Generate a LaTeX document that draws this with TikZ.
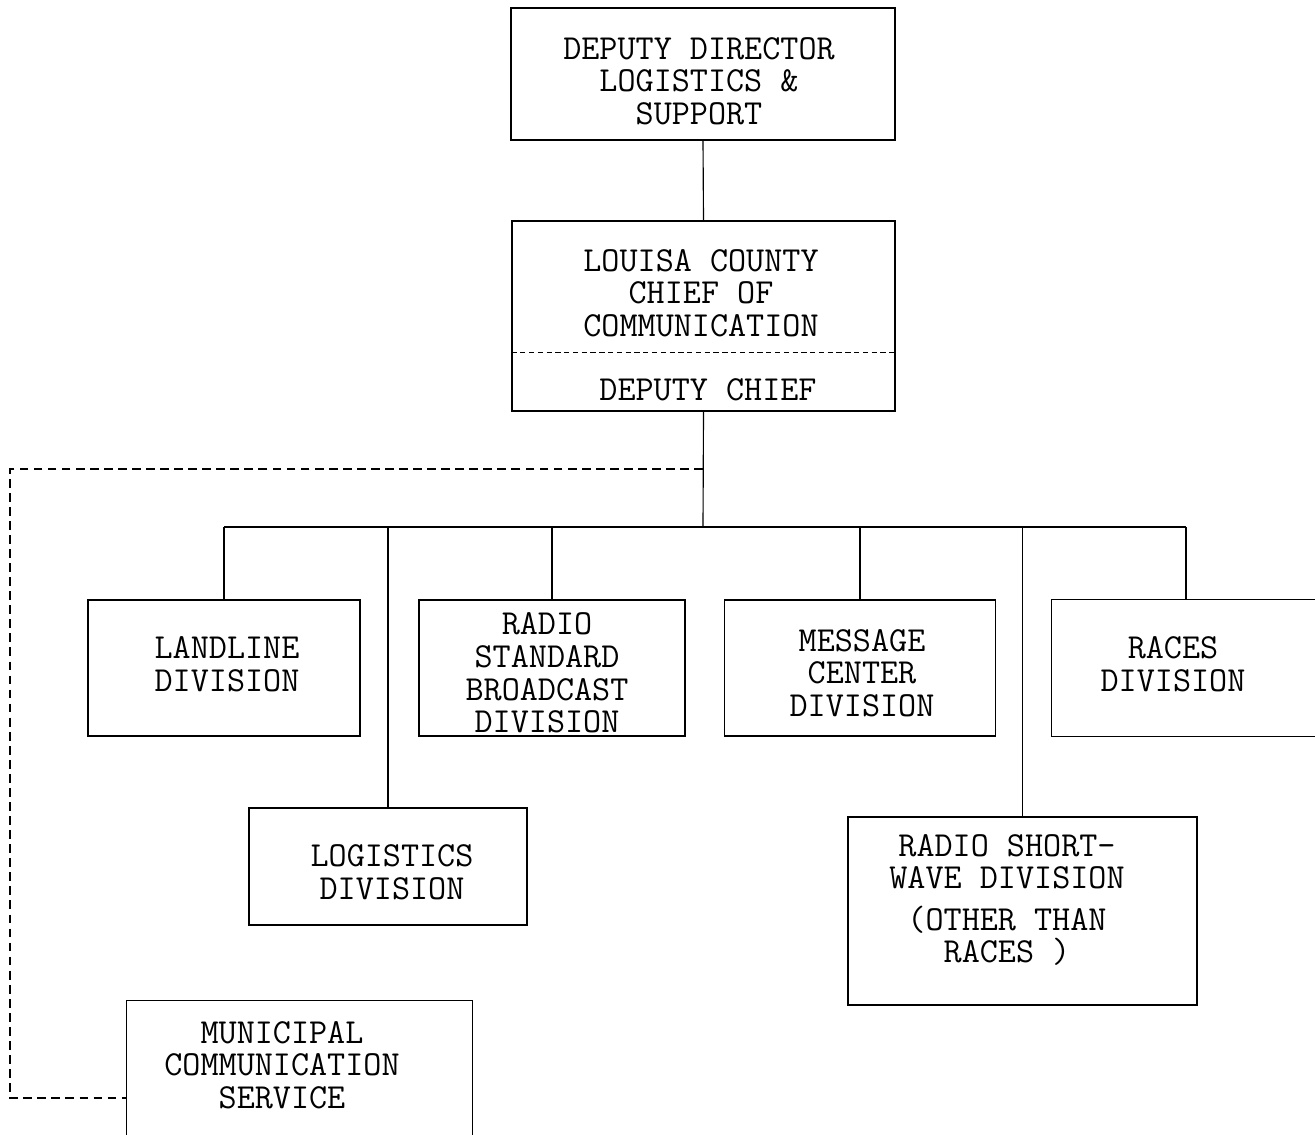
\documentclass[tikz,border=0pt]{standalone}
\usepackage{fontspec}
\begin{document}
\begin{tikzpicture}[x=0.02cm, y=-0.02cm,
  line width=0.65pt,
  orgbox/.style 2 args={draw, rectangle, inner sep=0pt,
    minimum width=#1*0.02cm, minimum height=#2*0.02cm},
  openbox/.style 2 args={rectangle, inner sep=0pt,
    minimum width=#1*0.02cm, minimum height=#2*0.02cm},
  label text/.style={align=center, inner sep=0pt,
    font=\ttfamily\fontsize{20pt}{18.6pt}\selectfont},
  link/.style={draw},
  dotted link/.style={draw, dash pattern=on 5pt off 3pt},
  divider/.style={draw, dash pattern=on 3pt off 2pt, line width=0.5pt}]

\useasboundingbox (0,0) rectangle (1315,1135);

% top of the chain
\node[orgbox={384}{132}] (deputy) at (703,74) {};
\node[label text] (deputyT) at (699,81) {DEPUTY DIRECTOR\\LOGISTICS \&\\SUPPORT};

\node[orgbox={383}{190}] (chief) at (703.5,316) {};
\node[label text] (chiefT) at (701,293) {LOUISA COUNTY\\CHIEF OF\\COMMUNICATION};
\coordinate (div) at (703,352);
\path[divider] (chief.west |- div) -- (chief.east |- div);
\node[label text] (depchief) at (708,390) {DEPUTY CHIEF};

% divisions
\node[orgbox={272}{136}] (landline) at (224,668) {};
\node[label text] at (227,664) {LANDLINE\\DIVISION};

\node[orgbox={266}{136}] (radiostd) at (552,668) {};
\node[label text] at (547,673) {RADIO\\STANDARD\\BROADCAST\\DIVISION};

\node[orgbox={271}{136}] (message) at (860,668) {};
\node[label text] at (862,673) {MESSAGE\\CENTER\\DIVISION};

\node[openbox={268}{136}] (races) at (1186,668) {};
\node[label text] at (1173,664) {RACES\\DIVISION};
\path[link] (races.north east) -- (races.north west) -- (races.south west) -- (races.south east);

\node[orgbox={278}{117}] (logistics) at (388,866.5) {};
\node[label text] at (392,872) {LOGISTICS\\DIVISION};

\node[orgbox={349}{188}] (shortwave) at (1022.5,911) {};
\node[label text] at (1007,900) {RADIO SHORT-\\WAVE DIVISION\\[5pt](OTHER THAN\\RACES )};

\node[openbox={345}{136}] (municipal) at (299.5,1069) {};
\node[label text] at (282,1065) {MUNICIPAL\\COMMUNICATION\\SERVICE};
\path[link] (municipal.south west) -- (municipal.north west) -- (municipal.north east) -- (municipal.south east);

% connectors
\coordinate (bar) at (703,527);
\coordinate (dsplit) at (703,469);
\coordinate (dcorner) at (10,1098);

\path[link] (deputy.south) -- (chief.north);
\path[link] (chief.south) -- (bar);
\path[link] (landline.north |- bar) -- (races.north |- bar);
\path[link] (landline.north |- bar) -- (landline.north);
\path[link] (radiostd.north |- bar) -- (radiostd.north);
\path[link] (message.north |- bar) -- (message.north);
\path[link] (races.north |- bar) -- (races.north);
\path[link] (logistics.north |- bar) -- (logistics.north);
\path[link] (shortwave.north |- bar) -- (shortwave.north);

\path[dotted link] (dsplit) -| (dcorner) -- (municipal.west |- dcorner);
\end{tikzpicture}
\end{document}
